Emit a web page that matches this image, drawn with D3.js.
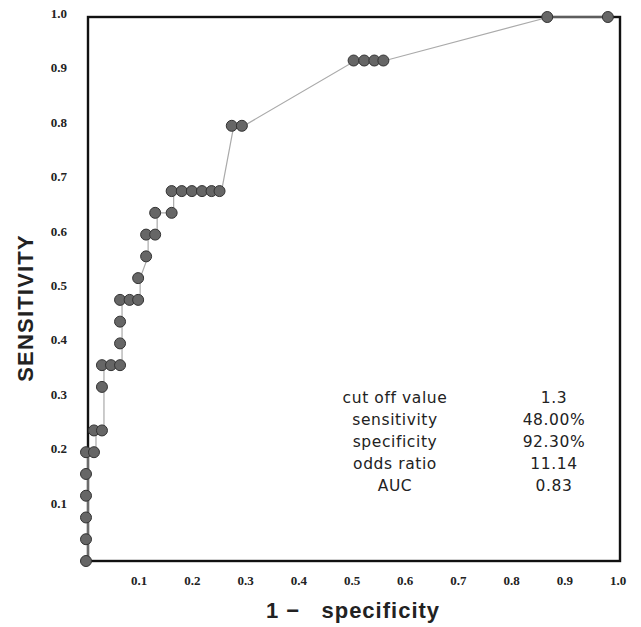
<!DOCTYPE html>
<html lang="en">
<head>
    <meta charset="UTF-8">
    <script src="https://d3js.org/d3.v7.min.js"></script>
    <title>ROC curve</title>
    <style>
        body {
            margin: 0;
            background-color: #ffffff;
        }
        .tick-label {
            font-family: "Liberation Serif", "DejaVu Serif", serif;
            font-weight: bold;
            font-size: 13px;
            fill: #222;
        }
        .axis-title {
            font-family: "Liberation Sans", Arial, sans-serif;
            font-weight: bold;
            font-size: 22px;
            fill: #222;
        }
        .stats {
            font-family: "DejaVu Sans", sans-serif;
            font-size: 15.5px;
            letter-spacing: 0.6px;
            fill: #222;
        }
    </style>
</head>
<body>
    <div id="chart"></div>

    <script>
        const width = 641;
        const height = 627;

        // 1 - specificity and sensitivity of each cut-off, in drawing order
        const fpr = [0, 0, 0, 0, 0, 0,
            0.015, 0.015, 0.030, 0.030, 0.030, 0.047, 0.064,
            0.064, 0.064, 0.064, 0.082, 0.098, 0.098, 0.113, 0.113, 0.130,
            0.130, 0.161, 0.161, 0.180, 0.199, 0.218, 0.236, 0.251,
            0.274, 0.293, 0.503, 0.523, 0.542, 0.559, 0.867, 0.981];
        const tpr = [0, 0.04, 0.08, 0.12, 0.16, 0.20,
            0.20, 0.24, 0.24, 0.32, 0.36, 0.36, 0.36,
            0.40, 0.44, 0.48, 0.48, 0.48, 0.52, 0.56, 0.60, 0.60,
            0.64, 0.64, 0.68, 0.68, 0.68, 0.68, 0.68, 0.68,
            0.80, 0.80, 0.92, 0.92, 0.92, 0.92, 1.0, 1.0];

        const tickValues = [0.1, 0.2, 0.3, 0.4, 0.5, 0.6, 0.7, 0.8, 0.9, 1.0];

        const statLabels = ["cut off value", "sensitivity", "specificity", "odds ratio", "AUC"];
        const statValues = ["1.3", "48.00%", "92.30%", "11.14", "0.83"];

        const points = fpr.map((d, i) => ({ x: d, y: tpr[i] }));

        const x = d3.scaleLinear().domain([0, 1]).range([88, 620]);
        const y = d3.scaleLinear().domain([0, 1]).range([561, 17]);

        const svg = d3.select("#chart").append("svg")
            .attr("width", width)
            .attr("height", height);

        // frame
        svg.append("rect")
            .attr("x", x(0))
            .attr("y", y(1))
            .attr("width", x(1) - x(0))
            .attr("height", y(0) - y(1))
            .attr("fill", "none")
            .attr("stroke", "#111")
            .attr("stroke-width", 2.4);

        // tick labels
        svg.selectAll(".xlab")
            .data(tickValues)
            .enter()
            .append("text")
            .attr("class", "tick-label")
            .attr("x", d => x(d) - 2)
            .attr("y", 585)
            .attr("text-anchor", "middle")
            .text(d => d.toFixed(1));

        svg.selectAll(".ylab")
            .data(tickValues)
            .enter()
            .append("text")
            .attr("class", "tick-label")
            .attr("x", 67)
            .attr("y", d => y(d) + 1)
            .attr("text-anchor", "end")
            .text(d => d.toFixed(1));

        // curve
        const line = d3.line()
            .x(d => x(d.x))
            .y(d => y(d.y));

        svg.append("path")
            .datum(points)
            .attr("d", line)
            .attr("fill", "none")
            .attr("stroke", "#aaa")
            .attr("stroke-width", 1.2);

        svg.selectAll("circle")
            .data(points)
            .enter()
            .append("circle")
            .attr("cx", d => x(d.x) - 2)
            .attr("cy", d => y(d.y))
            .attr("r", 5.5)
            .attr("fill", "#666")
            .attr("stroke", "#333")
            .attr("stroke-width", 1);

        // axis titles
        svg.append("text")
            .attr("class", "axis-title")
            .attr("transform", "translate(33,308) rotate(-90)")
            .attr("text-anchor", "middle")
            .style("letter-spacing", "1.2px")
            .text("SENSITIVITY");

        svg.append("text")
            .attr("class", "axis-title")
            .attr("x", 353)
            .attr("y", 618)
            .attr("text-anchor", "middle")
            .attr("xml:space", "preserve")
            .style("white-space", "pre")
            .style("letter-spacing", "1px")
            .text("1 −   specificity");

        // stats table
        statLabels.forEach((label, i) => {
            svg.append("text")
                .attr("class", "stats")
                .attr("x", 395)
                .attr("y", 403 + i * 22)
                .attr("text-anchor", "middle")
                .text(label);
            svg.append("text")
                .attr("class", "stats")
                .attr("x", 554)
                .attr("y", 403 + i * 22)
                .attr("text-anchor", "middle")
                .text(statValues[i]);
        });
    </script>
</body>
</html>
